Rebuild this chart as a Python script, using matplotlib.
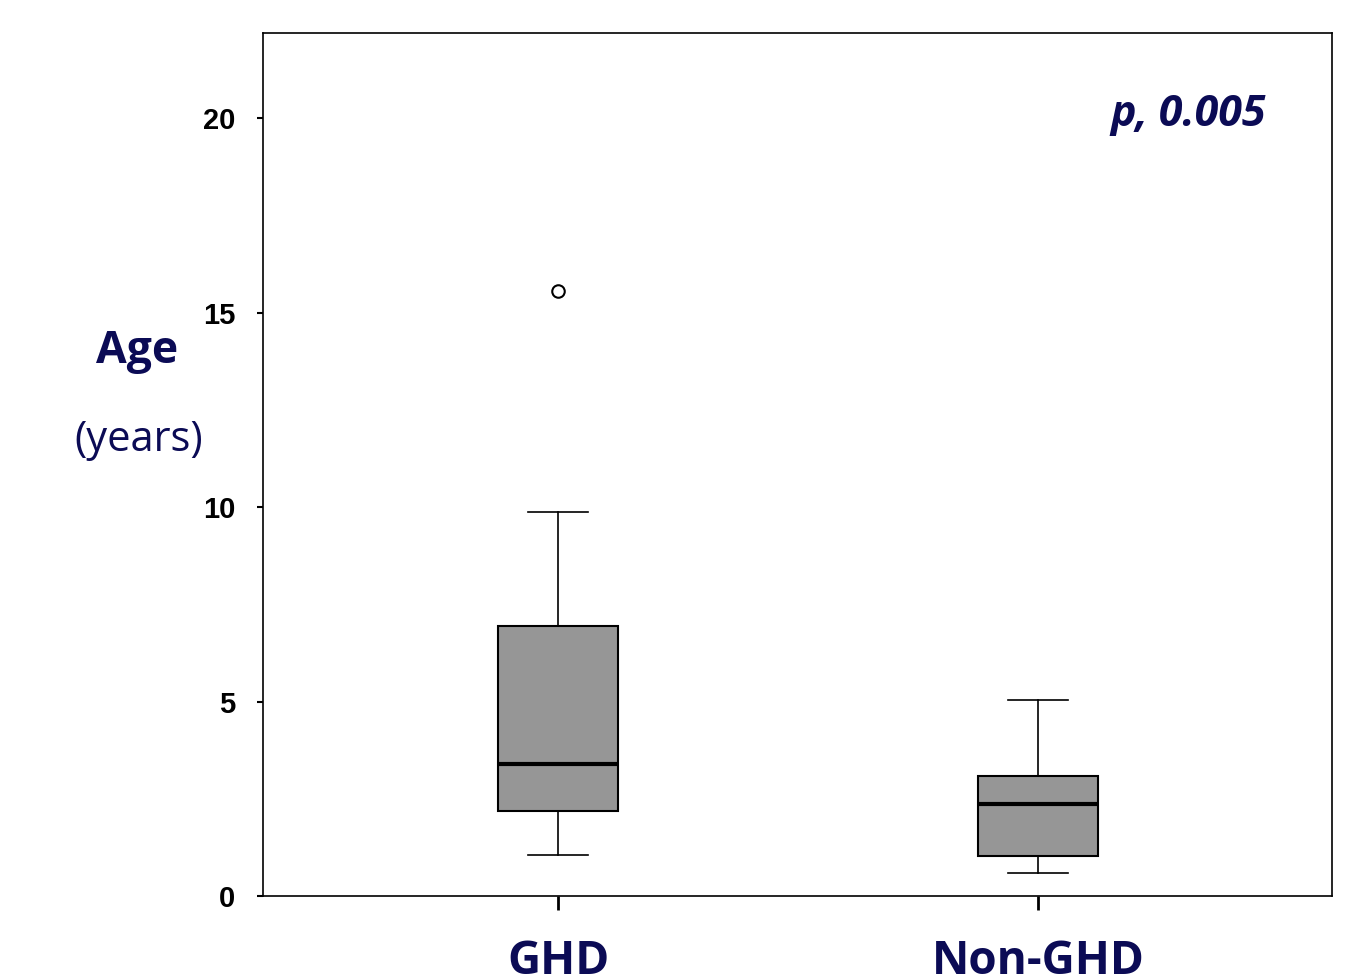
import matplotlib.pyplot as plt

# Box plot summary values (age in years)
groups = ['GHD', 'Non-GHD']
whisker_low = [1.06, 0.59]
q1 = [2.19, 1.03]
median = [3.40, 2.37]
q3 = [6.95, 3.09]
whisker_high = [9.88, 5.04]
outliers = [[15.57], []]

y_ticks = [0, 5, 10, 15, 20]
p_text = 'p, 0.005'

navy = '#0b0b55'

stats = []
for i, name in enumerate(groups):
    stats.append({'label': name, 'whislo': whisker_low[i], 'q1': q1[i],
                  'med': median[i], 'q3': q3[i], 'whishi': whisker_high[i],
                  'fliers': outliers[i]})

fig = plt.figure(figsize=(13.54, 9.75), dpi=100)
ax = fig.add_axes([0.1942, 0.081, 0.7896, 0.8852])

ax.bxp(stats, positions=[1, 2], widths=0.25, patch_artist=True,
       boxprops=dict(facecolor='#969696', edgecolor='black', linewidth=1.5),
       medianprops=dict(color='black', linewidth=3),
       whiskerprops=dict(color='black', linewidth=1.2),
       capprops=dict(color='black', linewidth=1.2),
       capwidths=0.125,
       flierprops=dict(marker='o', markerfacecolor='white',
                       markeredgecolor='black', markersize=9,
                       markeredgewidth=1.5))

ax.set_xlim(0.385, 2.6125)
ax.set_ylim(0, 22.2)

ax.set_yticks(y_ticks)
ax.set_yticklabels([str(t) for t in y_ticks], fontsize=21,
                   fontweight='bold', family='Liberation Sans')
ax.tick_params(axis='y', length=4, width=1.5, pad=16)

ax.set_xticks([1, 2])
ax.set_xticklabels(groups, fontsize=33, fontweight='bold', color=navy,
                   family='Open Sans')
ax.tick_params(axis='x', length=10, width=2, pad=20)

for s in ax.spines.values():
    s.set_linewidth(1.2)

fig.text(137 / 1354, 1 - 352 / 975, 'Age', fontsize=32, fontweight='bold',
         color=navy, family='Open Sans', ha='center', va='center')
fig.text(139 / 1354, 1 - 440 / 975, '(years)', fontsize=30, color=navy,
         family='Open Sans', ha='center', va='center')

ax.text(0.938, 0.905, p_text, transform=ax.transAxes, fontsize=31,
        fontweight='bold', fontstyle='italic', color=navy,
        family='Open Sans', ha='right', va='center')

plt.savefig('out.png', dpi=100)
